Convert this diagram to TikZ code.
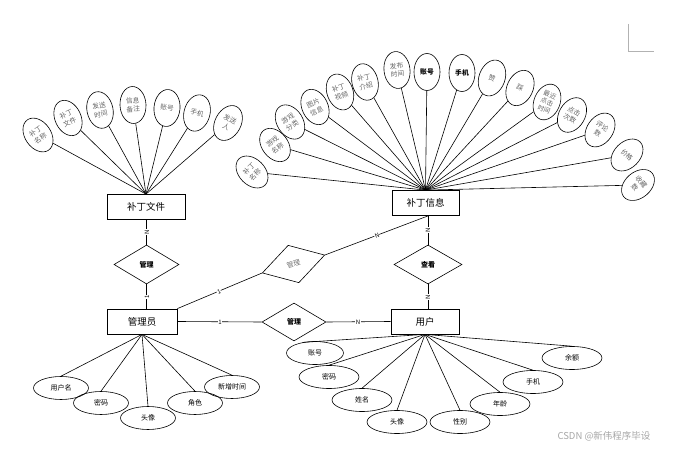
\documentclass[tikz,border=0pt]{standalone}
\usepackage{fontspec}
\newfontfamily\cjk{Noto Sans CJK SC}
\usetikzlibrary{shapes.geometric}
\begin{document}
\begin{tikzpicture}[x=1pt,y=-1pt,
  ln/.style={line width=0.6pt},
  ent/.style={draw, line width=0.8pt, minimum height=25pt, inner sep=0pt, font=\cjk\fontsize{9.5}{11}\selectfont},
  rel/.style={draw, diamond, line width=0.6pt, minimum width=65pt, minimum height=39pt, inner sep=0pt, font=\cjk\bfseries\fontsize{7}{8}\selectfont},
  fa/.style={draw, ellipse, line width=0.6pt, minimum width=26pt, minimum height=37pt, inner sep=0pt, align=center, font=\cjk\fontsize{6.8}{8.6}\selectfont, text=black!60},
  la/.style={draw, ellipse, line width=0.6pt, minimum width=55pt, minimum height=23pt, inner sep=0pt, font=\cjk\fontsize{7}{8}\selectfont},
  card/.style={font=\cjk\fontsize{6}{7}\selectfont, fill=white, inner sep=0.4pt}
]
\useasboundingbox (0,0) rectangle (673,449);

% entities
\node[ent, minimum width=78pt] (bf) at (146,207) {补丁文件};
\node[ent, minimum width=67pt] (bi) at (425.5,203) {补丁信息};
\node[ent, minimum width=70pt] (gl) at (142,321.5) {管理员};
\node[ent, minimum width=68pt] (yh) at (425,321.5) {用户};

% relationships
\node[rel] (d1) at (146.5,264.5) {管理};
\node[rel, minimum width=68pt] (d2) at (428,264.5) {查看};
\node[rel, rotate=16, text=black!55, font=\cjk\fontsize{7}{8}\selectfont] (d3) at (293.5,264) {管理};
\node[rel, minimum width=64pt, minimum height=38pt] (d4) at (294,322) {管理};

\draw[ln] (d1.north) -- (d1.north |- bf.south);
\draw[ln] (d1.south) -- (d1.south |- gl.north);
\draw[ln] (d2.north) -- (d2.north |- bi.south);
\draw[ln] (d2.south) -- (d2.south |- yh.north);
\draw[ln] (gl.north east) -- (d3.west);
\draw[ln] (d3.east) -- (d2.north |- bi.south);
\draw[ln] (gl.east) -- (d4.west);
\draw[ln] (d4.east) -- (yh.west);

% cardinalities
\node[card, rotate=90] (k1) at (147,232) {N};
\node[card, rotate=90] (k2) at (147,297) {1};
\node[card, rotate=90] (k3) at (428,230) {N};
\node[card, rotate=90] (k4) at (428,297) {N};
\node[card, rotate=23] (k5) at (219,292) {1};
\node[card, rotate=21] (k6) at (377,236) {N};
\node[card] (k7) at (220,322) {1};
\node[card] (k8) at (358,322) {N};

% attributes of 补丁文件
\node[fa, rotate=35] (a1) at (38,135) {补丁\\名称};
\node[fa, rotate=25] (a2) at (68,118) {补丁\\文件};
\node[fa, rotate=12] (a3) at (100,110) {发送\\时间};
\node[fa, rotate=3] (a4) at (133,105) {信息\\备注};
\node[fa, rotate=-5] (a5) at (167,108) {账号};
\node[fa, rotate=-15] (a6) at (197,113) {手机};
\node[fa, rotate=-28] (a7) at (228,123) {发送\\人};
\foreach \n in {a1,a2,a3,a4,a5,a6,a7} \draw[ln] (\n) -- (bf.north);

% attributes of 补丁信息
\node[fa, rotate=45] (b1) at (252,172) {补丁\\名称};
\node[fa, rotate=38] (b2) at (275,145) {游戏\\名称};
\node[fa, rotate=32] (b3) at (290,122) {游戏\\分类};
\node[fa, rotate=25] (b4) at (315,107) {图片\\信息};
\node[fa, rotate=20] (b5) at (340,92) {补丁\\视频};
\node[fa, rotate=14] (b6) at (365,82) {补丁\\介绍};
\node[fa, rotate=7] (b7) at (397,70) {发布\\时间};
\node[fa, text=black, font=\cjk\bfseries\fontsize{6.8}{8}\selectfont] (b8) at (427,72) {账号};
\node[fa, text=black, font=\cjk\bfseries\fontsize{6.8}{8}\selectfont] (b9) at (462,73) {手机};
\node[fa, rotate=-20] (b10) at (492,78) {赞};
\node[fa, rotate=-25] (b11) at (520,88) {踩};
\node[fa, rotate=-22, font=\cjk\fontsize{6.5}{7.8}\selectfont] (b12) at (547,102) {最近\\点击\\时间};
\node[fa, rotate=-30] (b13) at (572,115) {点击\\次数};
\node[fa, rotate=-35] (b14) at (600,130) {评论\\数};
\node[fa, rotate=-45] (b15) at (627,155) {价格};
\node[fa, rotate=-50] (b16) at (638,185) {收藏\\数};
\foreach \n in {b1,b2,b3,b4,b5,b6,b7,b8,b9,b10,b11,b12,b13,b14,b15,b16} \draw[ln] (\n) -- (bi.north);

% attributes of 管理员
\node[la] (c1) at (61,388) {用户名};
\node[la] (c2) at (101,403) {密码};
\node[la] (c3) at (148,418) {头像};
\node[la] (c4) at (195,403) {角色};
\node[la] (c5) at (232,387) {新增时间};
\foreach \n in {c1,c2,c3,c4,c5} \draw[ln] (\n.north) -- (gl.south);

% attributes of 用户
\node[la, minimum width=57pt] (u1) at (315,353) {账号};
\node[la, minimum width=60pt] (u2) at (329,377) {密码};
\node[la, minimum width=60pt] (u3) at (362,400) {姓名};
\node[la, minimum width=60pt] (u4) at (397,422) {头像};
\node[la, minimum width=60pt] (u5) at (460,422) {性别};
\node[la, minimum width=60pt] (u6) at (500,404) {年龄};
\node[la, minimum width=60pt] (u7) at (533,382) {手机};
\node[la, minimum width=60pt] (u8) at (572,358) {余额};
\draw[ln] (u1.140) -- (yh.south);
\foreach \n in {u2,u3,u4,u5,u6,u7,u8} \draw[ln] (\n.north) -- (yh.south);

% page corner mark and watermark
\coordinate (m1) at (628,24);
\coordinate (m2) at (628,51);
\coordinate (m3) at (654,51);
\draw[black!30, line width=0.8pt] (m1) -- (m2) -- (m3);
\node[font=\cjk\fontsize{9.5}{11}\selectfont, text=black!35] (wm) at (604,436) {CSDN @新伟程序毕设};
\end{tikzpicture}
\end{document}
